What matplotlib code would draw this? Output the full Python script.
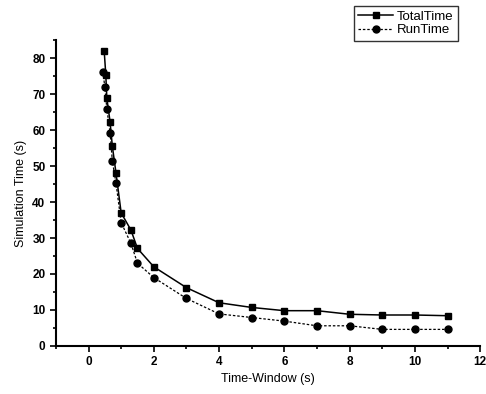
import matplotlib
matplotlib.use('Agg')
import matplotlib.pyplot as plt
from matplotlib.ticker import MultipleLocator

plt.rcParams['font.family'] = ['Liberation Sans', 'DejaVu Sans']

# values
total_x = [0.48, 0.53, 0.56, 0.66, 0.73, 0.84, 1.0, 1.3, 1.5, 2, 3, 4, 5, 6, 7, 8, 9, 10, 11]
total_y = [82, 75.3, 69, 62.3, 55.5, 48.2, 37, 32.2, 27.1, 22, 16.2, 12, 10.7, 9.8, 9.8, 8.8, 8.6, 8.6, 8.4]
run_x = [0.44, 0.5, 0.56, 0.66, 0.73, 0.84, 1.0, 1.3, 1.5, 2, 3, 4, 5, 6, 7, 8, 9, 10, 11]
run_y = [76.2, 72, 66, 59.3, 51.4, 45.4, 34.3, 28.5, 23, 19, 13.2, 8.9, 7.9, 6.9, 5.6, 5.6, 4.6, 4.6, 4.6]

fig = plt.figure(figsize=(4.86, 3.94), dpi=100)
ax = fig.add_axes([0.115, 0.122, 0.873, 0.776])

l1, = ax.plot(total_x, total_y, '-', color='black', lw=1.1, marker='s', markersize=5,
              label='TotalTime')
l2, = ax.plot(run_x, run_y, linestyle=(0, (2, 1.5)), color='black', lw=0.9, marker='o',
              markersize=5, label='RunTime')

ax.set_xlim(-1, 12)
ax.set_ylim(0, 85)
ax.xaxis.set_major_locator(MultipleLocator(2))
ax.xaxis.set_minor_locator(MultipleLocator(1))
ax.yaxis.set_major_locator(MultipleLocator(10))
ax.yaxis.set_minor_locator(MultipleLocator(5))
ax.tick_params(which='both', direction='out', width=1.2, labelsize=8.5)
ax.tick_params(which='major', length=4)
ax.tick_params(which='minor', length=2.5)
for lab in ax.get_xticklabels() + ax.get_yticklabels():
    lab.set_fontweight('bold')

ax.spines['top'].set_visible(False)
ax.spines['right'].set_visible(False)
ax.spines['left'].set_linewidth(1.5)
ax.spines['bottom'].set_linewidth(1.5)

ax.set_xlabel('Time-Window (s)', fontsize=9, labelpad=3)
ax.set_ylabel('Simulation Time (s)', fontsize=9, labelpad=4)

leg = fig.legend(handles=[l1, l2], loc='upper left', bbox_to_anchor=(0.728, 0.985),
                 fontsize=9.5, frameon=True, fancybox=False, handlelength=2.6,
                 handletextpad=0.3, borderpad=0.35, labelspacing=0.1, borderaxespad=0)
leg.get_frame().set_edgecolor('black')
leg.get_frame().set_linewidth(1.0)

fig.savefig('out.png', dpi=100)
